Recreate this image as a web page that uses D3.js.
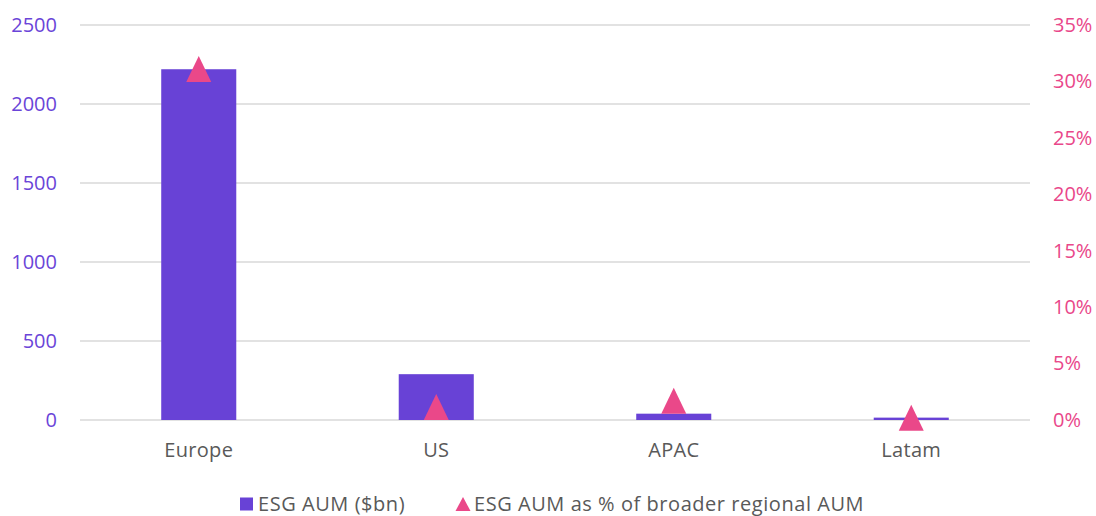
<!DOCTYPE html>
<html>
<head>
<meta charset="utf-8">
<script src="https://cdn.jsdelivr.net/npm/d3@7"></script>
<style>
  html, body { margin: 0; padding: 0; background: #fff; }
  svg { display: block; font-family: "Open Sans", sans-serif; }
</style>
</head>
<body>
<svg id="chart" width="1096" height="516"></svg>
<script>
// Regional ESG assets under management
const regions = ["Europe", "US", "APAC", "Latam"];
const esgAum = [2220, 290, 40, 15];            // $bn
const esgShare = [0.311, 0.0115, 0.017, 0.002]; // share of broader regional AUM
const leftTicks = [0, 500, 1000, 1500, 2000, 2500];
const rightTicks = [0, 0.05, 0.10, 0.15, 0.20, 0.25, 0.30, 0.35];
const legendLabels = ["ESG AUM ($bn)", "ESG AUM as % of broader regional AUM"];

const barColor = "#6842D6";
const triColor = "#EA4889";
const gridColor = "#D9D9D9";
const font = "'Open Sans', sans-serif";

const svg = d3.select("#chart");
const plotLeft = 80, plotRight = 1030, plotTop = 25, plotBottom = 420;

const x = d3.scaleBand().domain(regions).range([plotLeft, plotRight]).paddingInner(0.684).paddingOuter(0.342);
const yL = d3.scaleLinear().domain([0, 2500]).range([plotBottom, plotTop]);
const yR = d3.scaleLinear().domain([0, 0.35]).range([plotBottom, plotTop]);

// triangle marker centred on its bounding box
function triangle(w, h) {
  const p = d3.path();
  p.moveTo(0, -h / 2);
  p.lineTo(w / 2, h / 2);
  p.lineTo(-w / 2, h / 2);
  p.closePath();
  return p.toString();
}

// gridlines
svg.append("g").selectAll("line").data(leftTicks).join("line")
  .attr("x1", plotLeft).attr("x2", plotRight)
  .attr("y1", d => yL(d)).attr("y2", d => yL(d))
  .attr("stroke", gridColor).attr("stroke-width", 1.5);

// left axis
const axL = svg.append("g").attr("transform", `translate(${plotLeft},0)`)
  .call(d3.axisLeft(yL).tickValues(leftTicks).tickSize(0).tickPadding(23).tickFormat(d3.format("d")));
axL.select(".domain").remove();
axL.selectAll("text").attr("fill", "#6A45D8").style("font-size", "20px").style("font-family", font);

// right axis
const axR = svg.append("g").attr("transform", `translate(${plotRight},0)`)
  .call(d3.axisRight(yR).tickValues(rightTicks).tickSize(0).tickPadding(23).tickFormat(d3.format(".0%")));
axR.select(".domain").remove();
axR.selectAll("text").attr("fill", "#E9478A").style("font-size", "20px").style("font-family", font);

// category axis
const axX = svg.append("g").attr("transform", `translate(0,${plotBottom})`)
  .call(d3.axisBottom(x).tickSize(0).tickPadding(23));
axX.select(".domain").remove();
axX.selectAll("text").attr("fill", "#595959").style("font-size", "20px").style("font-family", font)
  .style("letter-spacing", "0.3px");

// bars
svg.append("g").selectAll("rect").data(regions).join("rect")
  .attr("x", d => x(d))
  .attr("width", x.bandwidth())
  .attr("y", (d, i) => yL(esgAum[i]))
  .attr("height", (d, i) => plotBottom - yL(esgAum[i]))
  .attr("fill", barColor);

// triangle markers
svg.append("g").selectAll("path").data(regions).join("path")
  .attr("d", triangle(25, 26))
  .attr("transform", (d, i) => `translate(${x(d) + x.bandwidth() / 2},${yR(esgShare[i])})`)
  .attr("fill", triColor);

// legend
const lg = svg.append("g").attr("transform", "translate(0,503.5)")
  .style("font-family", font).style("letter-spacing", "0.55px");
lg.append("rect").attr("x", 240).attr("y", -6).attr("width", 13).attr("height", 13).attr("fill", barColor);
lg.append("text").attr("x", 258).attr("y", 0).attr("dy", "0.35em")
  .attr("fill", "#595959").style("font-size", "20px").text(legendLabels[0]);
lg.append("path").attr("d", triangle(15, 14))
  .attr("transform", "translate(463,0.5)").attr("fill", triColor);
lg.append("text").attr("x", 474).attr("y", 0).attr("dy", "0.35em")
  .attr("fill", "#595959").style("font-size", "20px").text(legendLabels[1]);
</script>
</body>
</html>
